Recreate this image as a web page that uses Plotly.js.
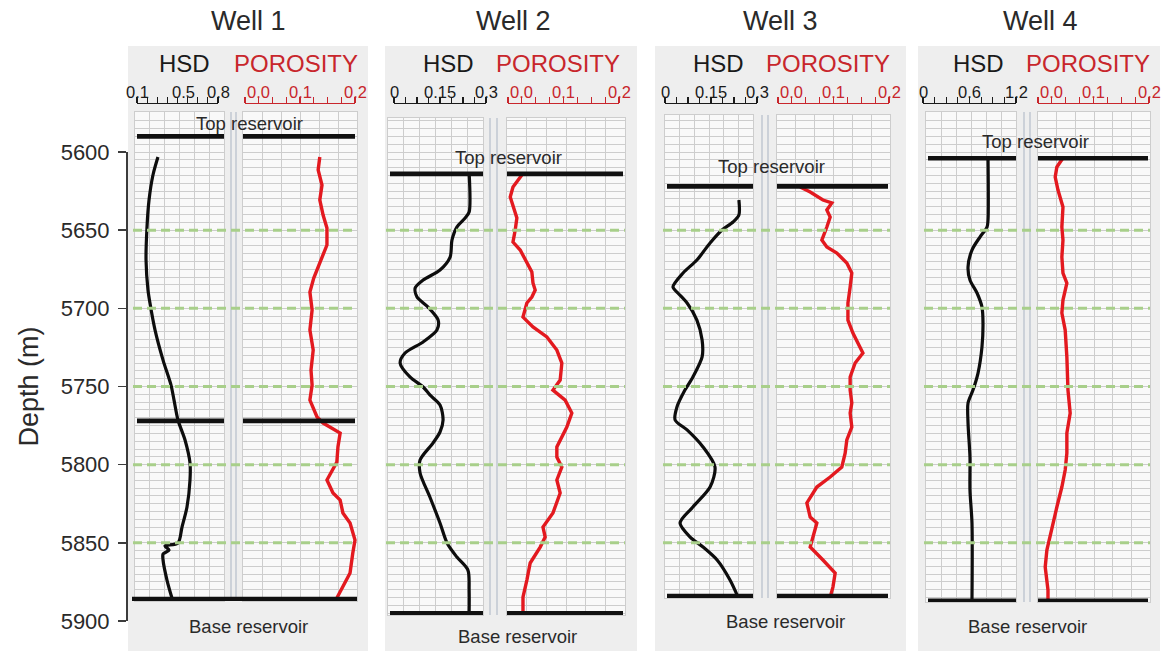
<!DOCTYPE html>
<html>
<head>
<meta charset="utf-8">
<script src="https://cdn.plot.ly/plotly-3.0.1.min.js"></script>
<style>
  html, body { margin: 0; padding: 0; background: #ffffff; }
  #chart { width: 1161px; height: 651px; }
</style>
</head>
<body>
<div id="chart"></div>
<script>
// ---------------- data ----------------
const wellNames = ['Well 1', 'Well 2', 'Well 3', 'Well 4'];
const topReservoir = [5590, 5614, 5622, 5604];
const baseReservoir = [5886, 5895, 5884, 5887];
const well1InnerBoundary = [5772];
const zoneLines = [5650, 5700, 5750, 5800, 5850];
const depthTicks = [5600, 5650, 5700, 5750, 5800, 5850, 5900];

const hsdScales = [[0.1, 0.8], [0, 0.3], [0, 0.3], [0, 1.2]];
const hsdScaleLabels = [['0.1', '0.5', '0.8'], ['0', '0.15', '0.3'], ['0', '0.15', '0.3'], ['0', '0.6', '1.2']];
const hsdScaleLabelValues = [[0.1, 0.5, 0.8], [0, 0.15, 0.3], [0, 0.15, 0.3], [0, 0.6, 1.2]];
const porosityScale = [0, 0.2];
const porosityScaleLabels = ['0.0', '0.1', '0.2'];
const porosityScaleLabelValues = [0, 0.1, 0.2];

// Well 1
const w1HsdDepth = [5603.2, 5614.7, 5630.7, 5648.6, 5669.1, 5688.3, 5696.6, 5713.9, 5733.1, 5749.1, 5758.7, 5771.4, 5784.2, 5798.9, 5809.8, 5827.1, 5839.9, 5850.1, 5852.0, 5854.6, 5857.2, 5861.0, 5873.8, 5885.3];
const w1Hsd = [0.281, 0.238, 0.204, 0.186, 0.178, 0.195, 0.212, 0.256, 0.325, 0.394, 0.420, 0.454, 0.515, 0.558, 0.558, 0.532, 0.489, 0.454, 0.342, 0.377, 0.325, 0.325, 0.359, 0.402];
const w1PorDepth = [5603.2, 5611.5, 5621.1, 5630.7, 5640.3, 5648.6, 5659.5, 5670.4, 5680.6, 5689.6, 5701.1, 5713.9, 5726.7, 5739.5, 5749.1, 5758.7, 5769.5, 5773.4, 5779.8, 5788.7, 5798.3, 5809.8, 5818.1, 5822.6, 5830.9, 5837.3, 5848.2, 5856.5, 5869.3, 5885.3];
const w1Por = [0.136, 0.133, 0.140, 0.136, 0.142, 0.149, 0.149, 0.136, 0.125, 0.118, 0.122, 0.118, 0.124, 0.120, 0.122, 0.118, 0.131, 0.142, 0.173, 0.169, 0.167, 0.149, 0.160, 0.173, 0.178, 0.191, 0.200, 0.196, 0.191, 0.167];

// Well 2
const w2HsdDepth = [5613.4, 5638.4, 5642.2, 5648.0, 5656.3, 5667.2, 5675.5, 5681.9, 5687.0, 5692.8, 5699.2, 5707.5, 5713.9, 5721.5, 5728.6, 5735.0, 5743.9, 5750.3, 5755.4, 5761.8, 5771.4, 5779.1, 5786.2, 5797.0, 5805.3, 5820.7, 5837.3, 5850.1, 5859.1, 5867.4, 5880.2, 5895.5];
const w2Hsd = [0.245, 0.245, 0.232, 0.205, 0.189, 0.183, 0.150, 0.095, 0.069, 0.075, 0.111, 0.144, 0.140, 0.095, 0.036, 0.020, 0.052, 0.095, 0.117, 0.150, 0.160, 0.150, 0.127, 0.085, 0.085, 0.117, 0.150, 0.173, 0.205, 0.241, 0.245, 0.245];
const w2PorDepth = [5614.7, 5622.4, 5628.8, 5635.2, 5642.2, 5649.9, 5657.6, 5662.7, 5671.0, 5676.8, 5683.8, 5688.3, 5692.8, 5696.6, 5705.6, 5711.9, 5718.3, 5726.7, 5735.0, 5745.9, 5752.3, 5758.7, 5767.0, 5775.9, 5788.7, 5795.1, 5801.5, 5809.8, 5818.1, 5830.9, 5839.9, 5846.3, 5852.7, 5862.9, 5873.8, 5884.7, 5895.5];
const w2Por = [0.025, 0.009, 0.004, 0.009, 0.016, 0.013, 0.009, 0.022, 0.034, 0.043, 0.045, 0.049, 0.043, 0.034, 0.027, 0.045, 0.070, 0.088, 0.097, 0.094, 0.081, 0.103, 0.115, 0.106, 0.088, 0.088, 0.097, 0.088, 0.094, 0.081, 0.063, 0.067, 0.058, 0.040, 0.034, 0.027, 0.027];

// Well 3
const w3HsdDepth = [5630.7, 5640.3, 5644.8, 5649.9, 5658.2, 5669.1, 5677.4, 5686.4, 5690.2, 5696.6, 5707.5, 5720.3, 5731.1, 5743.9, 5752.3, 5763.1, 5771.4, 5777.8, 5788.7, 5801.5, 5814.3, 5827.1, 5837.3, 5846.3, 5852.7, 5861.0, 5873.8, 5884.7];
const w3Hsd = [0.241, 0.241, 0.222, 0.186, 0.147, 0.104, 0.059, 0.026, 0.042, 0.072, 0.104, 0.121, 0.121, 0.091, 0.065, 0.039, 0.033, 0.072, 0.124, 0.163, 0.147, 0.091, 0.049, 0.082, 0.124, 0.170, 0.212, 0.238];
const w3PorDepth = [5622.4, 5625.6, 5630.7, 5632.6, 5637.1, 5641.6, 5648.0, 5656.3, 5660.8, 5664.6, 5671.0, 5677.4, 5686.4, 5696.6, 5707.5, 5715.8, 5728.6, 5735.0, 5743.9, 5752.3, 5760.6, 5767.0, 5775.9, 5784.2, 5792.6, 5801.5, 5807.9, 5814.3, 5824.5, 5833.5, 5837.3, 5846.3, 5852.7, 5861.0, 5869.3, 5878.3, 5884.7];
const w3Por = [0.040, 0.058, 0.081, 0.097, 0.088, 0.094, 0.088, 0.079, 0.088, 0.106, 0.124, 0.133, 0.130, 0.126, 0.126, 0.135, 0.153, 0.139, 0.130, 0.130, 0.133, 0.130, 0.133, 0.124, 0.121, 0.115, 0.094, 0.070, 0.052, 0.058, 0.070, 0.063, 0.058, 0.081, 0.103, 0.099, 0.094];

// Well 4
const w4HsdDepth = [5603.8, 5643.5, 5648.0, 5654.4, 5662.7, 5673.6, 5681.9, 5690.2, 5699.2, 5709.4, 5724.7, 5741.4, 5752.3, 5760.6, 5773.4, 5795.1, 5816.2, 5837.3, 5886.6];
const w4Hsd = [0.839, 0.839, 0.826, 0.735, 0.632, 0.581, 0.606, 0.697, 0.761, 0.774, 0.761, 0.710, 0.645, 0.581, 0.581, 0.606, 0.606, 0.632, 0.632];
const w4PorDepth = [5603.8, 5609.6, 5616.0, 5624.3, 5635.2, 5648.0, 5656.3, 5667.2, 5677.4, 5683.8, 5694.7, 5703.0, 5713.9, 5731.1, 5752.3, 5767.0, 5779.8, 5792.6, 5803.4, 5814.3, 5827.1, 5841.8, 5854.6, 5865.5, 5880.2, 5886.6];
const w4Por = [0.045, 0.034, 0.031, 0.036, 0.045, 0.043, 0.045, 0.043, 0.045, 0.052, 0.045, 0.043, 0.049, 0.052, 0.054, 0.058, 0.052, 0.052, 0.049, 0.043, 0.034, 0.025, 0.016, 0.013, 0.018, 0.018];

const hsdDepths = [w1HsdDepth, w2HsdDepth, w3HsdDepth, w4HsdDepth];
const hsdValues = [w1Hsd, w2Hsd, w3Hsd, w4Hsd];
const porDepths = [w1PorDepth, w2PorDepth, w3PorDepth, w4PorDepth];
const porValues = [w1Por, w2Por, w3Por, w4Por];

// ---------------- page geometry (pixels) ----------------
const W = 1161, H = 651;
const fx = p => p / W;
const fy = p => 1 - p / H;
// depth scale: 5600 m sits at 152 px, 5900 m at 621 px
const DEPTH_MAP = { p0: 152, p1: 621, d0: 5600, d1: 5900 };
const depthAtPx = p => DEPTH_MAP.d0 + (p - DEPTH_MAP.p0) * (DEPTH_MAP.d1 - DEPTH_MAP.d0) / (DEPTH_MAP.p1 - DEPTH_MAP.p0);

const geom = [
  { panel: [128, 368], hsd: [135, 224], por: [243, 357], gap: [231, 236], hsdScale: [137, 218], porScale: [245, 355], grid: [112, 601],
    title: 248, hsdLab: 184, porLab: 296, topX: 249, topOff: 13, baseX: 248, baseOff: 27, fullBase: true },
  { panel: [385, 637], hsd: [388, 483], por: [507, 625], gap: [490, 497], hsdScale: [394, 486], porScale: [508, 619], grid: [118, 615],
    title: 513, hsdLab: 448, porLab: 558, topX: 508, topOff: 16, baseX: 517, baseOff: 23, fullBase: false },
  { panel: [655, 906], hsd: [665, 753], por: [777, 890], gap: [762, 768], hsdScale: [665, 757], porScale: [778, 889], grid: [115, 598],
    title: 780, hsdLab: 718, porLab: 828, topX: 772, topOff: 20, baseX: 785, baseOff: 26, fullBase: false },
  { panel: [918, 1160], hsd: [926, 1016], por: [1038, 1150], gap: [1024, 1030], hsdScale: [923, 1016], porScale: [1038, 1149], grid: [112, 602],
    title: 1040, hsdLab: 978, porLab: 1088, topX: 1035, topOff: 17, baseX: 1027, baseOff: 26, fullBase: false }
];

const FONT = '"Liberation Sans", Arial, Helvetica, sans-serif';
const TEXT = '#2a2a2a';
const RED_TEXT = '#c8262c';
const RED_CURVE = '#e3191f';
const BLACK_CURVE = '#0d0d0d';
const GRID = '#cdcdcd';
const PANEL_BG = '#eeeeee';
const TRACK_BG = '#f9f9f9';
const ZONE_GREEN = '#a8cf8a';
const GRID_DIVISIONS = [6, 6];
const SCALE_LINE_PX = 103;
const SCALE_LABEL_PX = 92;

const xName = i => (i === 1 ? 'xaxis' : 'xaxis' + i);
const xRef = i => (i === 1 ? 'x' : 'x' + i);
const yName = i => (i === 1 ? 'yaxis' : 'yaxis' + i);
const yRef = i => (i === 1 ? 'y' : 'y' + i);

const layout = {
  width: W, height: H,
  margin: { l: 0, r: 0, t: 0, b: 0 },
  paper_bgcolor: '#ffffff',
  plot_bgcolor: 'rgba(0,0,0,0)',
  showlegend: false,
  font: { family: FONT, color: TEXT },
  shapes: [],
  annotations: []
};
const traces = [];
const bgShapes = [], trackShapes = [], gapShapes = [], overShapes = [];

wellNames.forEach((name, w) => {
  const g = geom[w];
  const yi = w + 1;
  layout[yName(yi)] = {
    domain: [fy(g.grid[1]), fy(g.grid[0])],
    range: [depthAtPx(g.grid[1]), depthAtPx(g.grid[0])],
    anchor: xRef(2 * w + 1),
    showgrid: true, gridcolor: GRID, gridwidth: 1,
    tick0: 5600, dtick: 5,
    showticklabels: false, ticks: '', zeroline: false,
    showline: true, mirror: 'all', linecolor: GRID, linewidth: 1,
    fixedrange: true
  };

  // panel background
  bgShapes.push({ type: 'rect', xref: 'paper', yref: 'paper', layer: 'below',
    x0: fx(g.panel[0]), x1: fx(g.panel[1]), y0: fy(H), y1: fy(46),
    fillcolor: PANEL_BG, line: { width: 0 } });

  [0, 1].forEach(k => {
    const ti = 2 * w + k + 1;          // track axis
    const si = 8 + ti;                 // scale-bar axis
    const span = k === 0 ? g.hsd : g.por;
    const sPx = k === 0 ? g.hsdScale : g.porScale;
    const sV = k === 0 ? hsdScales[w] : porosityScale;
    const vAt = p => sV[0] + (p - sPx[0]) * (sV[1] - sV[0]) / (sPx[1] - sPx[0]);
    const r0 = vAt(span[0]), r1 = vAt(span[1]);
    const color = k === 0 ? '#1a1a1a' : RED_TEXT;

    layout[xName(ti)] = {
      domain: [fx(span[0]), fx(span[1])],
      range: [r0, r1], anchor: yRef(yi),
      showgrid: true, gridcolor: GRID, gridwidth: 1,
      tick0: r0, dtick: (r1 - r0) / GRID_DIVISIONS[k],
      showticklabels: false, ticks: '', zeroline: false,
      showline: true, mirror: true, linecolor: GRID, linewidth: 1,
      fixedrange: true
    };

    const tv = [];
    for (let i = 0; i <= 8; i++) tv.push(sV[0] + i * (sV[1] - sV[0]) / 8);
    layout[xName(si)] = {
      domain: [fx(sPx[0]), fx(sPx[1])],
      range: sV.slice(), anchor: 'free', position: fy(SCALE_LINE_PX), side: 'top',
      showgrid: false, zeroline: false,
      showline: true, linecolor: color, linewidth: 1.3,
      ticks: 'outside', ticklen: 6, tickwidth: 1.2, tickcolor: color,
      tickvals: tv, showticklabels: false, fixedrange: true
    };
    traces.push({ type: 'scatter', mode: 'lines', x: [], y: [], xaxis: xRef(si), yaxis: 'y6', hoverinfo: 'skip', showlegend: false });

    // scale labels
    const labs = k === 0 ? hsdScaleLabels[w] : porosityScaleLabels;
    const labV = k === 0 ? hsdScaleLabelValues[w] : porosityScaleLabelValues;
    labs.forEach((t, j) => {
      layout.annotations.push({
        text: t, x: labV[j], xref: xRef(si), y: fy(SCALE_LABEL_PX), yref: 'paper',
        xanchor: (k === 1 && j === 0) ? 'left' : 'center', yanchor: 'middle',
        showarrow: false, font: { size: 16.5, color: color, family: FONT }
      });
    });

    // track background
    trackShapes.push({ type: 'rect', xref: 'paper', yref: 'paper', layer: 'below',
      x0: fx(span[0]), x1: fx(span[1]), y0: fy(g.grid[1]), y1: fy(g.grid[0]),
      fillcolor: TRACK_BG, line: { width: 0 } });

    // log curve
    traces.push({
      type: 'scatter', mode: 'lines',
      x: k === 0 ? hsdValues[w] : porValues[w],
      y: k === 0 ? hsdDepths[w] : porDepths[w],
      xaxis: xRef(ti), yaxis: yRef(yi),
      line: k === 0 ? { color: BLACK_CURVE, width: 3.2, shape: 'spline', smoothing: 0.8 }
                    : { color: RED_CURVE, width: 3.4 },
      cliponaxis: true, hoverinfo: 'skip', showlegend: false
    });

    // reservoir markers on each track
    const markerDepths = [topReservoir[w]].concat(w === 0 ? well1InnerBoundary : []);
    if (!g.fullBase) markerDepths.push(baseReservoir[w]);
    markerDepths.forEach(d => {
      overShapes.push({ type: 'line', xref: 'paper', yref: yRef(yi), layer: 'above',
        x0: fx(span[0] + (k === 0 ? 2 : 0)), x1: fx(span[1] - (k === 1 ? 2 : 0)), y0: d, y1: d,
        line: { color: '#111111', width: 4.6 } });
    });
  });

  if (g.fullBase) {
    overShapes.push({ type: 'line', xref: 'paper', yref: yRef(yi), layer: 'above',
      x0: fx(g.hsd[0] - 3), x1: fx(g.por[1]), y0: baseReservoir[w], y1: baseReservoir[w],
      line: { color: '#111111', width: 4.6 } });
  }

  // double divider between the two tracks
  g.gap.forEach(px => {
    gapShapes.push({ type: 'line', xref: 'paper', yref: yRef(yi) + ' domain', layer: 'below',
      x0: fx(px), x1: fx(px), y0: 0, y1: 1, line: { color: '#c3cad3', width: 1.6 } });
  });

  // zone boundaries
  zoneLines.forEach(d => {
    overShapes.unshift({ type: 'line', xref: 'paper', yref: yRef(yi), layer: 'above',
      x0: fx(g.hsd[0] - 2), x1: fx(g.por[1]), y0: d, y1: d,
      line: { color: ZONE_GREEN, width: 3, dash: '9px,5px' } });
  });

  // titles and labels
  layout.annotations.push(
    { text: name, x: fx(g.title), y: fy(21), xref: 'paper', yref: 'paper', xanchor: 'center', yanchor: 'middle',
      showarrow: false, font: { size: 27, color: TEXT, family: FONT } },
    { text: 'HSD', x: fx(g.hsdLab), y: fy(63), xref: 'paper', yref: 'paper', xanchor: 'center', yanchor: 'middle',
      showarrow: false, font: { size: 24, color: '#1a1a1a', family: FONT } },
    { text: 'POROSITY', x: fx(g.porLab), y: fy(63), xref: 'paper', yref: 'paper', xanchor: 'center', yanchor: 'middle',
      showarrow: false, font: { size: 24, color: RED_TEXT, family: FONT } },
    { text: 'Top reservoir', x: fx(g.topX), xref: 'paper', y: topReservoir[w], yref: yRef(yi), yshift: g.topOff,
      xanchor: 'center', yanchor: 'middle', showarrow: false, font: { size: 18.5, color: TEXT, family: FONT } },
    { text: 'Base reservoir', x: fx(g.baseX), xref: 'paper', y: baseReservoir[w], yref: yRef(yi), yshift: -g.baseOff,
      xanchor: 'center', yanchor: 'middle', showarrow: false, font: { size: 18.5, color: TEXT, family: FONT } }
  );
});

layout.shapes = bgShapes.concat(trackShapes, gapShapes, overShapes);

// depth axis on the left
layout.yaxis5 = {
  domain: [fy(DEPTH_MAP.p1), fy(DEPTH_MAP.p0)],
  range: [5900, 5600], anchor: 'free', position: fx(126), side: 'left',
  showline: true, linecolor: '#3c3c3c', linewidth: 1.5,
  ticks: 'outside', ticklen: 8, tickwidth: 1.5, tickcolor: '#3c3c3c',
  ticklabelstandoff: 4,
  tickvals: depthTicks, ticktext: depthTicks.map(String),
  tickfont: { size: 22, color: TEXT, family: FONT },
  showgrid: false, zeroline: false, fixedrange: true,
  title: { text: 'Depth (m)', font: { size: 27, color: TEXT, family: FONT }, standoff: 12 }
};
layout.xaxis17 = { visible: false, domain: [0, 0.02], range: [0, 1], fixedrange: true };
layout.yaxis6 = { visible: false, domain: [0.9, 1], range: [0, 1], fixedrange: true };
traces.push({ type: 'scatter', mode: 'lines', x: [], y: [], xaxis: 'x17', yaxis: 'y5', hoverinfo: 'skip', showlegend: false });

Plotly.newPlot('chart', traces, layout, { displayModeBar: false, staticPlot: true });
</script>
</body>
</html>
